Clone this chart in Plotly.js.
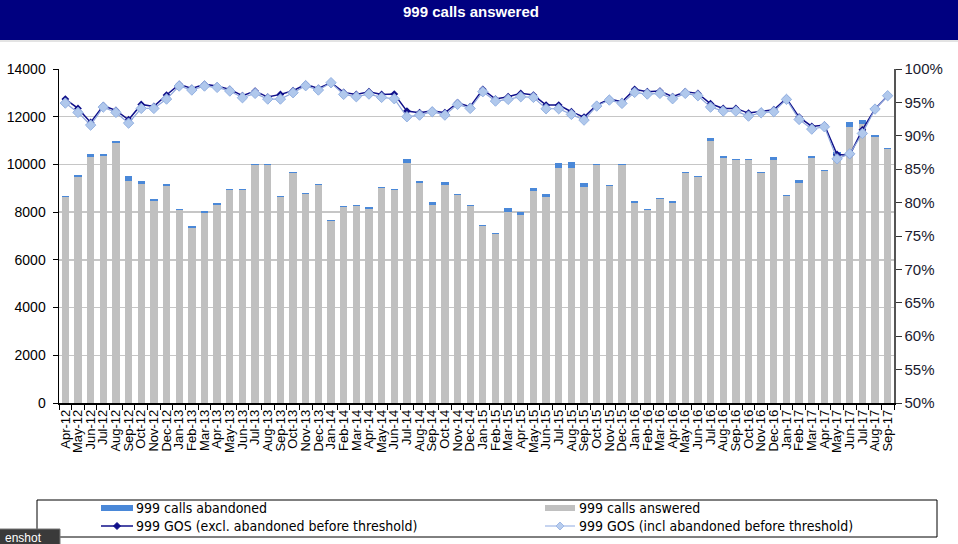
<!DOCTYPE html>
<html>
<head>
<meta charset="utf-8">
<script src="https://cdn.plot.ly/plotly-3.0.1.min.js"></script>
<style>
  html, body { margin: 0; padding: 0; background: #ffffff; }
  #chart { width: 958px; height: 544px; }
</style>
</head>
<body>
<div id="chart"></div>
<script>
const months = [
  'Apr-12','May-12','Jun-12','Jul-12','Aug-12','Sep-12','Oct-12','Nov-12','Dec-12',
  'Jan-13','Feb-13','Mar-13','Apr-13','May-13','Jun-13','Jul-13','Aug-13','Sep-13','Oct-13','Nov-13','Dec-13',
  'Jan-14','Feb-14','Mar-14','Apr-14','May-14','Jun-14','Jul-14','Aug-14','Sep-14','Oct-14','Nov-14','Dec-14',
  'Jan-15','Feb-15','Mar-15','Apr-15','May-15','Jun-15','Jul-15','Aug-15','Sep-15','Oct-15','Nov-15','Dec-15',
  'Jan-16','Feb-16','Mar-16','Apr-16','May-16','Jun-16','Jul-16','Aug-16','Sep-16','Oct-16','Nov-16','Dec-16',
  'Jan-17','Feb-17','Mar-17','Apr-17','May-17','Jun-17','Jul-17','Aug-17','Sep-17'
];

const callsAnswered = [
  8620, 9490, 10300, 10360, 10880, 9320, 9160, 8470, 9110,
  8090, 7340, 7980, 8320, 8910, 8910, 9990, 9990, 8630, 9620, 8750, 9130,
  7620, 8200, 8250, 8140, 9010, 8910, 10080, 9230, 8320, 9120, 8700, 8260,
  7400, 7070, 7990, 7870, 8900, 8620, 9870, 9860, 9060, 9980, 9080, 9980,
  8400, 8100, 8550, 8400, 9640, 9470, 10990, 10290, 10180, 10180, 9640, 10200,
  8680, 9240, 10250, 9710, 10340, 11550, 11690, 11160, 10630
];

const callsAbandoned = [
  70, 70, 130, 70, 120, 200, 130, 70, 70,
  60, 60, 50, 50, 50, 50, 40, 40, 50, 50, 50, 50,
  50, 60, 60, 60, 60, 60, 130, 60, 110, 130, 60, 60,
  60, 60, 170, 150, 110, 140, 180, 240, 180, 50, 60, 50,
  60, 50, 60, 60, 60, 60, 110, 60, 60, 60, 60, 100,
  50, 100, 100, 60, 180, 230, 170, 60, 60
];

const gosExcl = [
  95.5, 94.1, 92.0, 94.5, 93.8, 92.4, 94.7, 94.4, 96.1,
  97.7, 97.1, 97.7, 97.45, 96.95, 96.0, 96.7, 95.8, 96.2, 96.75, 97.7, 97.1,
  97.95, 96.5, 96.2, 96.6, 96.2, 96.25, 93.7, 93.45, 93.75, 93.45, 94.95, 94.35,
  96.95, 95.5, 95.85, 96.35, 96.1, 94.6, 94.6, 93.6, 92.8, 94.6, 95.5, 95.1,
  96.95, 96.6, 96.7, 95.85, 96.6, 96.35, 94.8, 94.1, 94.1, 93.4, 93.6, 93.9,
  95.6, 92.8, 91.4, 91.6, 87.2, 87.1, 90.9, 94.0, 96.0
];

const gosIncl = [
  94.9, 93.5, 91.6, 94.3, 93.5, 91.9, 94.1, 94.1, 95.5,
  97.45, 96.85, 97.45, 97.25, 96.7, 95.7, 96.35, 95.5, 95.5, 96.45, 97.5, 96.85,
  97.95, 96.2, 95.85, 96.25, 95.75, 95.55, 92.85, 93.1, 93.6, 93.1, 94.7, 94.1,
  96.6, 95.2, 95.45, 95.85, 95.75, 94.05, 94.05, 93.2, 92.35, 94.45, 95.35, 94.85,
  96.5, 96.25, 96.35, 95.55, 96.35, 96.0, 94.3, 93.7, 93.7, 92.95, 93.45, 93.6,
  95.45, 92.45, 91.0, 91.35, 86.55, 87.3, 90.35, 94.0, 96.0
];

const leftTicks = [0, 2000, 4000, 6000, 8000, 10000, 12000, 14000];
const rightTicks = [50, 55, 60, 65, 70, 75, 80, 85, 90, 95, 100];
const rightTickText = ['50%', '55%', '60%', '65%', '70%', '75%', '80%', '85%', '90%', '95%', '100%'];

// plot-area geometry (pixels)
const W = 958, H = 544;
const L = 59, R = 894, T = 69, B = 403;
const px = x => (x - L) / (R - L);
const py = y => (B - y) / (B - T);

const narrow = 'Liberation Sans Narrow, Arial Narrow, DejaVu Sans Condensed, Liberation Sans, sans-serif';
const arial = 'Liberation Sans, Arial, sans-serif';

const traces = [
  {
    type: 'bar', name: '999 calls answered', x: months, y: callsAnswered,
    marker: { color: '#c0c0c0', line: { width: 0 } }, hoverinfo: 'x+y'
  },
  {
    type: 'bar', name: '999 calls abandoned', x: months, y: callsAbandoned,
    marker: { color: '#4a88d8', line: { width: 0 } }, hoverinfo: 'x+y'
  },
  {
    type: 'scatter', mode: 'lines+markers', name: '999 GOS (excl. abandoned before threshold)',
    x: months, y: gosExcl, yaxis: 'y2',
    line: { color: '#10108a', width: 1.5 },
    marker: { symbol: 'diamond', size: 6, color: '#10108a' }
  },
  {
    type: 'scatter', mode: 'lines+markers', name: '999 GOS (incl abandoned before threshold)',
    x: months, y: gosIncl, yaxis: 'y2',
    line: { color: '#8ea6dc', width: 1.2 },
    marker: { symbol: 'diamond', size: 8, color: '#b0c8ec', line: { color: '#94b2e2', width: 1 } }
  }
];

// manual legend
const legY1 = 508, legY2 = 526;
const diamond = (cx, cy, r) =>
  `M${px(cx)},${py(cy - r)} L${px(cx + r)},${py(cy)} L${px(cx)},${py(cy + r)} L${px(cx - r)},${py(cy)} Z`;

const shapes = [
  // title banner
  { type: 'rect', xref: 'paper', yref: 'paper', x0: px(-2), x1: px(W + 2), y0: py(40), y1: py(-2),
    fillcolor: '#000080', line: { width: 0 }, layer: 'above' },
  { type: 'line', xref: 'paper', yref: 'paper', x0: px(0), x1: px(W), y0: py(41), y1: py(41),
    line: { color: '#c8c8c8', width: 1 } },
  // legend box
  { type: 'rect', xref: 'paper', yref: 'paper', x0: px(37), x1: px(937), y0: py(537), y1: py(500),
    fillcolor: 'rgba(0,0,0,0)', line: { color: '#000000', width: 1 } },
  { type: 'rect', xref: 'paper', yref: 'paper', x0: px(101), x1: px(133), y0: py(511), y1: py(505),
    fillcolor: '#4a88d8', line: { width: 0 } },
  { type: 'rect', xref: 'paper', yref: 'paper', x0: px(545), x1: px(575), y0: py(511), y1: py(505),
    fillcolor: '#c0c0c0', line: { width: 0 } },
  { type: 'line', xref: 'paper', yref: 'paper', x0: px(101), x1: px(133), y0: py(legY2), y1: py(legY2),
    line: { color: '#10108a', width: 1.5 } },
  { type: 'path', xref: 'paper', yref: 'paper', path: diamond(117, legY2, 3.5),
    fillcolor: '#10108a', line: { color: '#10108a', width: 1 } },
  { type: 'line', xref: 'paper', yref: 'paper', x0: px(545), x1: px(575), y0: py(legY2), y1: py(legY2),
    line: { color: '#9fb8e6', width: 1.2 } },
  { type: 'path', xref: 'paper', yref: 'paper', path: diamond(560, legY2, 4),
    fillcolor: '#b8cdee', line: { color: '#9fb8e6', width: 1 } },
  // screenshot tooltip artefact
  { type: 'rect', xref: 'paper', yref: 'paper', x0: px(-4), x1: px(60), y0: py(550), y1: py(529),
    fillcolor: '#3a3a3a', line: { color: '#777777', width: 1 } }
];

const legFont = { family: narrow, size: 14, color: '#000000' };
const annotations = [
  { xref: 'paper', yref: 'paper', x: px(134), y: py(legY1), xanchor: 'left', yanchor: 'middle',
    text: '999 calls abandoned', showarrow: false, font: legFont },
  { xref: 'paper', yref: 'paper', x: px(577), y: py(legY1), xanchor: 'left', yanchor: 'middle',
    text: '999 calls answered', showarrow: false, font: legFont },
  { xref: 'paper', yref: 'paper', x: px(134), y: py(legY2), xanchor: 'left', yanchor: 'middle',
    text: '999 GOS (excl. abandoned before threshold)', showarrow: false, font: legFont },
  { xref: 'paper', yref: 'paper', x: px(577), y: py(legY2), xanchor: 'left', yanchor: 'middle',
    text: '999 GOS (incl abandoned before threshold)', showarrow: false, font: legFont },
  { xref: 'paper', yref: 'paper', x: px(3), y: py(538), xanchor: 'left', yanchor: 'middle',
    text: 'enshot', showarrow: false, font: { family: arial, size: 12, color: '#ffffff' } }
];

const layout = {
  width: W, height: H,
  margin: { l: L, r: W - R, t: T, b: H - B, pad: 0 },
  paper_bgcolor: '#ffffff', plot_bgcolor: '#ffffff',
  showlegend: false,
  barmode: 'stack', bargap: 0.42,
  title: {
    text: '<b>999 calls answered</b>',
    xref: 'container', yref: 'container', x: 471 / W, y: 1 - 12 / H,
    xanchor: 'center', yanchor: 'middle',
    font: { family: arial, size: 15, color: '#ffffff' }
  },
  xaxis: {
    type: 'category', range: [-0.5, months.length - 0.5],
    tickmode: 'array', tickvals: months, ticktext: months,
    tickangle: -90, tickson: 'boundaries', ticks: 'outside', ticklen: 5, tickcolor: '#000000',
    showline: true, linecolor: '#000000', linewidth: 1.5, showgrid: false,
    tickfont: { family: arial, size: 13, color: '#000000' }, automargin: false
  },
  yaxis: {
    range: [0, 14000], tickmode: 'array', tickvals: leftTicks, ticktext: leftTicks.map(String),
    showgrid: true, gridcolor: '#c6c6c6', gridwidth: 1.5,
    showline: true, linecolor: '#000000', linewidth: 1.5,
    ticks: 'outside', ticklen: 5, tickcolor: '#000000', ticklabelstandoff: 4,
    tickfont: { family: arial, size: 14, color: '#000000' }, zeroline: false, automargin: false
  },
  yaxis2: {
    overlaying: 'y', side: 'right', range: [50, 100],
    tickmode: 'array', tickvals: rightTicks, ticktext: rightTickText,
    showgrid: false, showline: true, linecolor: '#555555', linewidth: 1.5,
    ticks: 'outside', ticklen: 6, tickcolor: '#333333',
    tickfont: { family: arial, size: 15, color: '#1a1a2e' }, zeroline: false, automargin: false
  },
  shapes: shapes,
  annotations: annotations
};

Plotly.newPlot('chart', traces, layout, { displayModeBar: false, staticPlot: true });
</script>
</body>
</html>
